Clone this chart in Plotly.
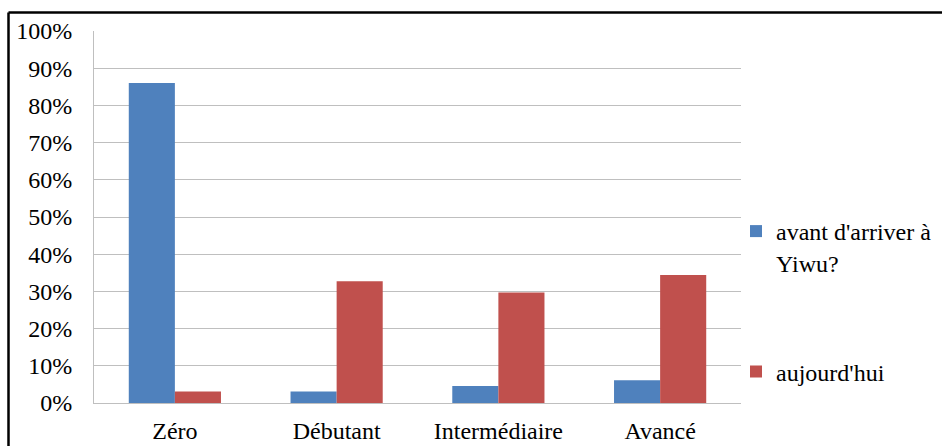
import plotly.graph_objects as go

categories = ["Zéro", "Débutant", "Intermédiaire", "Avancé"]
avant = [0.860, 0.031, 0.046, 0.061]
aujourdhui = [0.031, 0.327, 0.297, 0.344]
series_names = ["avant d'arriver à<br>Yiwu?", "aujourd'hui"]
y_ticks = [i / 10 for i in range(11)]

FONT = "Liberation Serif, Times New Roman, serif"
FS = 24
W, H = 942, 446
ML, MR, MT, MB = 94, 201, 31, 43
pw, ph = W - ML - MR, H - MT - MB

fig = go.Figure()
fig.add_trace(go.Bar(x=categories, y=avant, name=series_names[0],
                     marker=dict(color="#4F81BD", line=dict(width=0)), legend="legend"))
fig.add_trace(go.Bar(x=categories, y=aujourdhui, name=series_names[1],
                     marker=dict(color="#C0504D", line=dict(width=0)), legend="legend2"))

def px_x(px):
    return (px - ML) / pw

def px_y(py):
    return (H - MB - py) / ph

fig.update_layout(
    width=W, height=H,
    margin=dict(l=ML, r=MR, t=MT, b=MB, pad=0, autoexpand=False),
    paper_bgcolor="white", plot_bgcolor="white",
    font=dict(family=FONT, size=FS, color="black"),
    bargap=0.43, bargroupgap=0,
    barmode="group",
    xaxis=dict(showline=True, linecolor="#BFBFBF", linewidth=1,
               ticks="outside", ticklen=6, tickcolor="rgba(0,0,0,0)",
               tickfont=dict(family=FONT, size=FS, color="black"),
               showgrid=False, automargin=False),
    yaxis=dict(range=[0, 1], tickvals=y_ticks, tickformat=".0%",
               showline=True, linecolor="#BFBFBF", linewidth=1,
               showgrid=True, gridcolor="#BFBFBF", gridwidth=1,
               zeroline=False, automargin=False,
               ticks="outside", ticklen=16, tickcolor="rgba(0,0,0,0)",
               tickfont=dict(family=FONT, size=FS, color="black")),
    legend=dict(xref="container", yref="container", x=736 / W, y=1 - 247 / H,
                xanchor="left", yanchor="middle", valign="top",
                font=dict(family=FONT, size=FS, color="black"),
                bgcolor="rgba(0,0,0,0)", borderwidth=0),
    legend2=dict(xref="container", yref="container", x=736 / W, y=1 - 372 / H,
                 xanchor="left", yanchor="middle", valign="top",
                 font=dict(family=FONT, size=FS, color="black"),
                 bgcolor="rgba(0,0,0,0)", borderwidth=0),
    shapes=[
        dict(type="line", xref="paper", yref="paper",
             x0=px_x(8.5), x1=px_x(960), y0=px_y(12.5), y1=px_y(12.5),
             line=dict(color="black", width=2.5)),
        dict(type="line", xref="paper", yref="paper",
             x0=px_x(8.5), x1=px_x(8.5), y0=px_y(12.5), y1=px_y(460),
             line=dict(color="black", width=2.5)),
    ],
    showlegend=True,
)

fig.write_html("out.html",
               config={"displayModeBar": False},
               post_script="document.body.style.margin='0';document.body.style.overflow='hidden';")
